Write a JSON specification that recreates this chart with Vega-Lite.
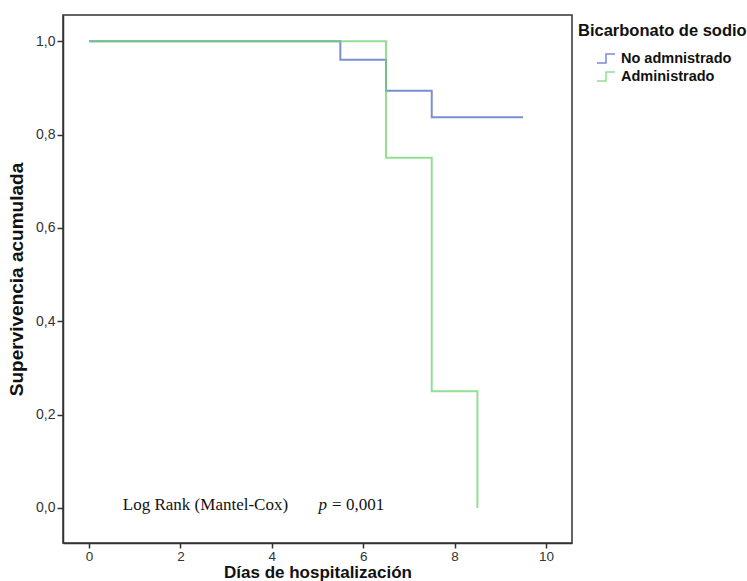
{
  "$schema": "https://vega.github.io/schema/vega-lite/v6.json",
  "width": 509,
  "height": 528,
  "autosize": {"type": "none"},
  "padding": {"left": 63, "top": 15, "right": 175, "bottom": 38},
  "background": "white",
  "config": {
    "view": {"stroke": "#333", "strokeWidth": 1.5},
    "font": "Liberation Sans"
  },
  "datasets": {
    "km": [
      {"dias": 0, "surv": 1.0, "grupo": "No admnistrado"},
      {"dias": 5.5, "surv": 0.96, "grupo": "No admnistrado"},
      {"dias": 6.5, "surv": 0.894, "grupo": "No admnistrado"},
      {"dias": 7.5, "surv": 0.837, "grupo": "No admnistrado"},
      {"dias": 9.5, "surv": 0.837, "grupo": "No admnistrado"},
      {"dias": 0, "surv": 1.0, "grupo": "Administrado"},
      {"dias": 6.5, "surv": 0.75, "grupo": "Administrado"},
      {"dias": 7.5, "surv": 0.25, "grupo": "Administrado"},
      {"dias": 8.5, "surv": 0.0, "grupo": "Administrado"}
    ],
    "notes": [
      {"dias": 0.74, "surv": -0.005, "label": "Log Rank (Mantel-Cox)"},
      {"dias": 5.32, "surv": -0.005, "label": "= 0,001"}
    ],
    "pnote": [
      {"dias": 5.02, "surv": -0.005, "label": "p"}
    ]
  },
  "layer": [
    {
      "data": {"name": "km"},
      "mark": {"type": "line", "interpolate": "step-after", "strokeWidth": 2, "opacity": 0.75},
      "encoding": {
        "x": {
          "field": "dias", "type": "quantitative",
          "scale": {"domain": [-0.57, 10.57], "nice": false, "zero": false},
          "axis": {
            "values": [0, 2, 4, 6, 8, 10],
            "title": "Días de hospitalización",
            "titleFont": "Liberation Sans", "titleFontSize": 17, "titleFontWeight": "bold", "titleColor": "#111",
            "titlePadding": 2,
            "labelFontSize": 13.5, "labelColor": "#333", "labelFont": "Liberation Sans",
            "tickColor": "#333", "tickSize": 5, "tickWidth": 1.5, "labelPadding": 1,
            "domainColor": "#333", "domainWidth": 1.5, "grid": false
          }
        },
        "y": {
          "field": "surv", "type": "quantitative",
          "scale": {"domain": [-0.075, 1.056], "nice": false, "zero": false},
          "axis": {
            "values": [0, 0.2, 0.4, 0.6, 0.8, 1.0],
            "labelExpr": "replace(format(datum.value, '.1f'), '.', ',')",
            "title": "Supervivencia acumulada",
            "titleFont": "Liberation Sans", "titleFontSize": 19, "titleFontWeight": "bold", "titleColor": "#111",
            "titlePadding": 9,
            "labelFontSize": 14, "labelColor": "#333", "labelFont": "Liberation Sans",
            "tickColor": "#333", "tickSize": 6, "tickWidth": 1.5, "labelPadding": 2,
            "domainColor": "#333", "domainWidth": 1.5, "grid": false
          }
        },
        "color": {
          "field": "grupo", "type": "nominal",
          "scale": {"domain": ["No admnistrado", "Administrado"], "range": ["#4f67c4", "#6fd46f"]},
          "legend": {
            "title": "Bicarbonato de sodio",
            "orient": "none",
            "legendX": 515,
            "legendY": 8,
            "titleFont": "Liberation Sans", "titleFontSize": 16.5, "titleFontWeight": "bold", "titleColor": "#111",
            "titlePadding": 9,
            "labelFont": "Liberation Sans", "labelFontSize": 14.5, "labelFontWeight": "bold", "labelColor": "#111",
            "symbolType": "M-1,0.5H0V-0.5H1",
            "symbolSize": 324,
            "symbolStrokeWidth": 1.5,
            "symbolFillColor": "transparent",
            "symbolOffset": 18,
            "labelOffset": 5,
            "rowPadding": -1
          }
        }
      }
    },
    {
      "data": {"name": "notes"},
      "mark": {"type": "text", "align": "left", "baseline": "alphabetic", "font": "Liberation Serif", "fontSize": 17, "color": "#111"},
      "encoding": {
        "x": {"field": "dias", "type": "quantitative"},
        "y": {"field": "surv", "type": "quantitative"},
        "text": {"field": "label"}
      }
    },
    {
      "data": {"name": "pnote"},
      "mark": {"type": "text", "align": "left", "baseline": "alphabetic", "font": "Liberation Serif", "fontSize": 17, "fontStyle": "italic", "color": "#111"},
      "encoding": {
        "x": {"field": "dias", "type": "quantitative"},
        "y": {"field": "surv", "type": "quantitative"},
        "text": {"field": "label"}
      }
    }
  ]
}
